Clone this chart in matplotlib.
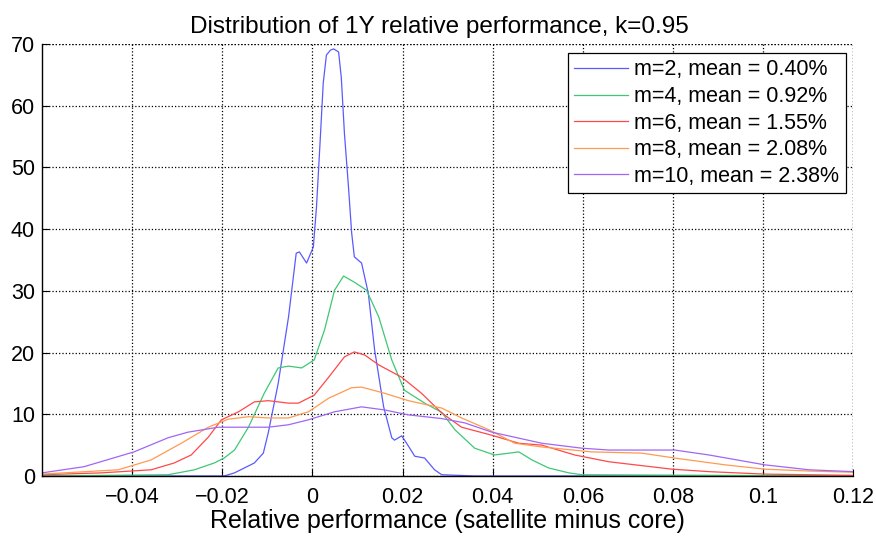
import matplotlib
matplotlib.use("Agg")
import matplotlib.pyplot as plt

plt.rcParams['font.family'] = ['Liberation Sans', 'DejaVu Sans']

# values
x_m2 = [-0.06, -0.0196, -0.0173, -0.0129, -0.0109, -0.0098, -0.0076, -0.0053, -0.0036, -0.0029,
        -0.0013, 0.0002, 0.0009, 0.0016, 0.0024, 0.0031, 0.0040, 0.0047, 0.0058, 0.0064, 0.0071,
        0.0080, 0.0087, 0.0093, 0.0109, 0.0124, 0.0138, 0.0158, 0.0176, 0.0182, 0.0198,
        0.0209, 0.0227, 0.0249, 0.0271, 0.0287, 0.036, 0.12]
y_m2 = [0, 0, 0.5, 2.1, 3.7, 7.0, 15, 25.8, 36.1, 36.3,
        34.5, 37.1, 43.6, 52.8, 63.7, 68.2, 69.0, 69.2, 68.7, 64.6, 55.5,
        46.8, 39.4, 35.5, 34.5, 29.6, 20.4, 11.2, 6.2, 5.8, 6.5,
        5.3, 3.2, 2.9, 1.0, 0.2, 0, 0]

x_m4 = [-0.06, -0.032, -0.0262, -0.0218, -0.0196, -0.0173, -0.0142, -0.0107, -0.0076, -0.0053,
        -0.0024, 0.0004, 0.0027, 0.0049, 0.0069, 0.0093, 0.012, 0.0147, 0.0176, 0.0204,
        0.0249, 0.0287, 0.0316, 0.036, 0.0404, 0.0458, 0.0487, 0.0524, 0.0569, 0.0598, 0.12]
y_m4 = [0, 0.2, 1.0, 2.1, 2.9, 4.2, 7.9, 13.4, 17.5, 17.8,
        17.5, 18.8, 23.7, 30.1, 32.4, 31.4, 30.1, 25.8, 18.8, 13.9,
        11.8, 10.3, 7.5, 4.5, 3.4, 3.9, 2.6, 1.3, 0.5, 0.2, 0]

x_m6 = [-0.06, -0.0469, -0.0358, -0.0307, -0.0269, -0.0231, -0.0202, -0.0164, -0.0129, -0.0098,
        -0.0053, -0.0031, 0.0004, 0.0036, 0.0071, 0.0093, 0.0116, 0.0147, 0.0198, 0.0242,
        0.0287, 0.0331, 0.0398, 0.0458, 0.0509, 0.0582, 0.0658, 0.0798, 0.088, 0.1004, 0.12]
y_m6 = [0.2, 0.5, 1.0, 2.1, 3.4, 6.3, 9.1, 10.4, 12.0, 12.2,
        11.8, 11.8, 13.1, 16.0, 19.3, 20.1, 19.6, 18.0, 16.0, 13.4,
        10.2, 7.9, 6.6, 5.3, 5.0, 3.4, 2.3, 1.1, 0.7, 0.3, 0.1]

x_m8 = [-0.06, -0.0431, -0.0358, -0.0291, -0.0231, -0.0187, -0.0142, -0.0098, -0.0053, -0.0009,
        0.0036, 0.0087, 0.0109, 0.016, 0.0213, 0.0287, 0.0331, 0.0391, 0.0449, 0.0509,
        0.062, 0.0731, 0.0804, 0.0916, 0.1004, 0.1102, 0.12]
y_m8 = [0.3, 1.0, 2.6, 5.3, 7.9, 9.2, 9.6, 9.4, 9.4, 10.4,
        12.6, 14.3, 14.4, 13.4, 12.2, 11.0, 9.4, 7.5, 5.3, 4.7,
        3.9, 3.7, 2.9, 1.8, 1.1, 0.8, 0.6]

x_m10 = [-0.06, -0.0507, -0.0396, -0.032, -0.0276, -0.0209, -0.0098, -0.0053, -0.0009, 0.0049,
         0.0109, 0.016, 0.0213, 0.0287, 0.0338, 0.0398, 0.0509, 0.0598, 0.0658, 0.0804,
         0.088, 0.1004, 0.1102, 0.12]
y_m10 = [0.5, 1.5, 3.9, 6.2, 7.1, 7.9, 7.9, 8.3, 9.1, 10.4,
         11.2, 10.7, 9.9, 9.3, 8.6, 7.1, 5.3, 4.5, 4.2, 4.2,
         3.4, 1.8, 1.0, 0.7]

labels = ['m=2, mean = 0.40%', 'm=4, mean = 0.92%', 'm=6, mean = 1.55%',
          'm=8, mean = 2.08%', 'm=10, mean = 2.38%']
colors = ['#5a5aff', '#3ec872', '#ff4848', '#ff9a50', '#a066f5']

x_ticks = [-0.04, -0.02, 0, 0.02, 0.04, 0.06, 0.08, 0.1, 0.12]
x_ticklabels = ['\u22120.04', '\u22120.02', '0', '0.02', '0.04', '0.06', '0.08', '0.1', '0.12']
y_ticks = [0, 10, 20, 30, 40, 50, 60, 70]

fig = plt.figure(figsize=(8.76, 5.36), dpi=100)
ax = fig.add_axes([0.048, 0.112, 0.926, 0.806])

series = [(x_m2, y_m2), (x_m4, y_m4), (x_m6, y_m6), (x_m8, y_m8), (x_m10, y_m10)]
for (xs, ys), lab, c in zip(series, labels, colors):
    ax.plot(xs, ys, color=c, linewidth=0.9, label=lab)

ax.set_xlim(-0.06, 0.12)
ax.set_ylim(0, 70)
ax.set_xticks(x_ticks)
ax.set_xticklabels(x_ticklabels)
ax.set_yticks(y_ticks)
ax.tick_params(direction='in', length=5, width=0.8, labelsize=15.5)
ax.tick_params(axis='x', pad=8)
ax.tick_params(axis='y', pad=5)

ax.grid(True, color='black', linestyle=':', linewidth=0.9)
ax.spines['top'].set_visible(False)
ax.spines['right'].set_visible(False)
ax.spines['left'].set_linewidth(1.0)
ax.spines['bottom'].set_linewidth(1.0)
# dotted edges like the reference box
ax.axhline(70, color='black', linestyle=':', linewidth=0.9)
ax.axvline(0.12, color='black', linestyle=':', linewidth=0.9)

ax.set_title('Distribution of 1Y relative performance, k=0.95', fontsize=17.5, pad=8, x=0.49)
ax.set_xlabel('Relative performance (satellite minus core)', fontsize=18, labelpad=1)

leg = ax.legend(loc='upper right', bbox_to_anchor=(0.991, 0.979), borderaxespad=0,
                fontsize=15.5, fancybox=False, framealpha=1, edgecolor='black',
                handlelength=2.5, handletextpad=0.3, labelspacing=0.26, borderpad=0.3)
leg.get_frame().set_linewidth(0.9)

fig.savefig('out.png', dpi=100)
